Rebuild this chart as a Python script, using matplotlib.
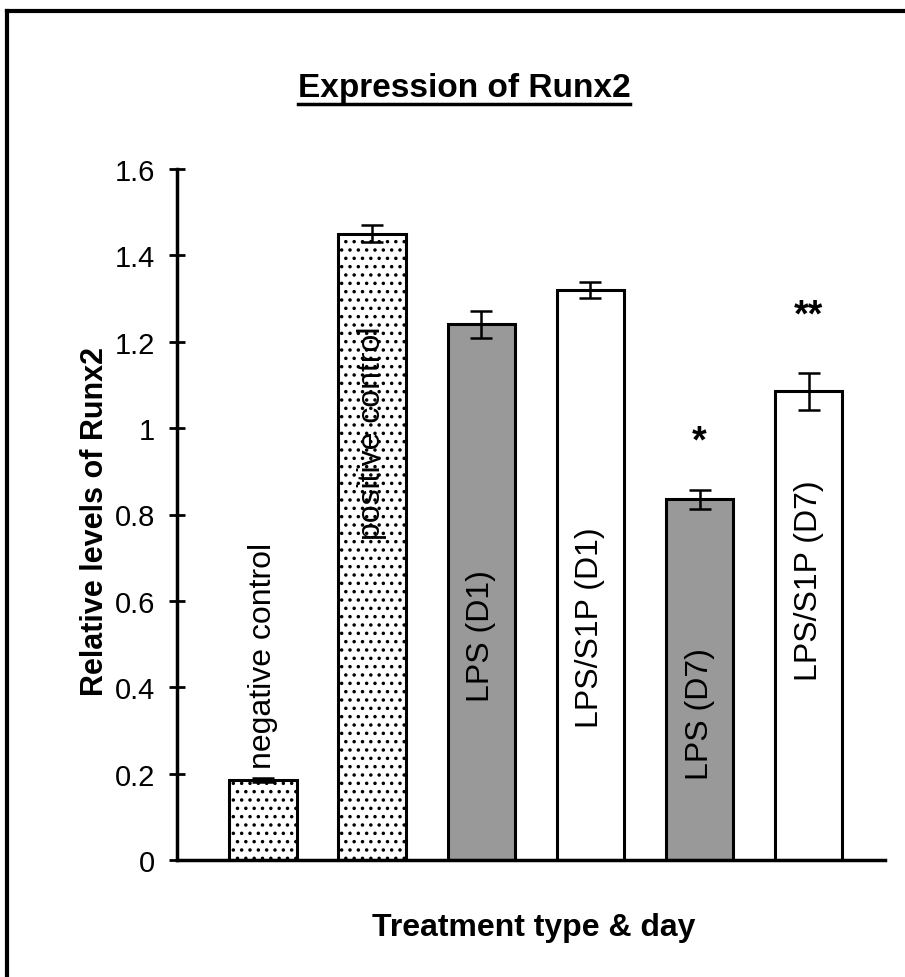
import matplotlib
matplotlib.use("Agg")
import matplotlib.pyplot as plt
from matplotlib.lines import Line2D

# =========================
# DATA
# =========================
categories = ["negative control", "positive control", "LPS (D1)",
              "LPS/S1P (D1)", "LPS (D7)", "LPS/S1P (D7)"]
values = [0.185, 1.45, 1.24, 1.32, 0.835, 1.085]
errors = [0.005, 0.02, 0.032, 0.018, 0.022, 0.043]
markers = ["", "", "", "", "*", "**"]

# =========================
# STYLE / LAYOUT
# =========================
face = ["white", "white", "#999999", "white", "#999999", "white"]
hatch = ["..", "..", None, None, None, None]
label_y = [0.475, 0.99, 0.52, 0.54, 0.34, 0.65]
marker_y = [0, 0, 0, 0, 0.97, 1.26]

plt.rcParams["font.family"] = ["Liberation Sans", "DejaVu Sans"]
plt.rcParams["hatch.linewidth"] = 1.3

fig = plt.figure(figsize=(9.05, 9.78), dpi=100)
ax = fig.add_axes([177 / 905, 1 - 861 / 978, (885 - 177) / 905, (861 - 170) / 978])

x = list(range(len(categories)))
ax.bar(x, values, width=0.62, color=face, edgecolor="black", linewidth=2.2,
       hatch=hatch, zorder=2)
ax.errorbar(x, values, yerr=errors, fmt="none", ecolor="black",
            elinewidth=1.8, capsize=8, capthick=1.8, zorder=3)

for i, name in enumerate(categories):
    ax.text(i, label_y[i], name, rotation=90, ha="center", va="center",
            fontsize=23, zorder=4)
    if markers[i]:
        ax.text(i, marker_y[i], markers[i], ha="center", va="center",
                fontsize=27, fontweight="bold")

ax.set_xlim(-0.79, 5.70)
ax.set_ylim(0, 1.6)
ax.set_yticks([0, 0.2, 0.4, 0.6, 0.8, 1.0, 1.2, 1.4, 1.6])
ax.set_yticklabels(["0", "0.2", "0.4", "0.6", "0.8", "1", "1.2", "1.4", "1.6"])
ax.set_xticks([])
ax.tick_params(axis="y", direction="inout", length=12, width=2, labelsize=21, pad=10)

for s in ["top", "right"]:
    ax.spines[s].set_visible(False)
for s in ["left", "bottom"]:
    ax.spines[s].set_linewidth(2.5)

fig.text(95 / 905, 1 - 522 / 978, "Relative levels of Runx2", rotation=90,
         ha="center", va="center", fontsize=22, fontweight="bold")

title = fig.text(464 / 905, 1 - 88 / 978, "Expression of Runx2", ha="center",
                 va="center", fontsize=24, fontweight="bold")
fig.text(534 / 905, 1 - 928 / 978, "Treatment type & day", ha="center",
         va="center", fontsize=23, fontweight="bold")

# underline the title
fig.canvas.draw()
bb = title.get_window_extent().transformed(fig.transFigure.inverted())
fig.add_artist(Line2D([bb.x0, bb.x1], [bb.y0 - 0.002, bb.y0 - 0.002],
                      transform=fig.transFigure, color="black", linewidth=2.5))

# outer frame (left and top edges)
fig.add_artist(Line2D([7 / 905, 7 / 905], [0, 1 - 12 / 978],
                      transform=fig.transFigure, color="black", linewidth=3))
fig.add_artist(Line2D([7 / 905, 1], [1 - 12 / 978, 1 - 12 / 978],
                      transform=fig.transFigure, color="black", linewidth=3))

fig.savefig("out.png", dpi=100)
